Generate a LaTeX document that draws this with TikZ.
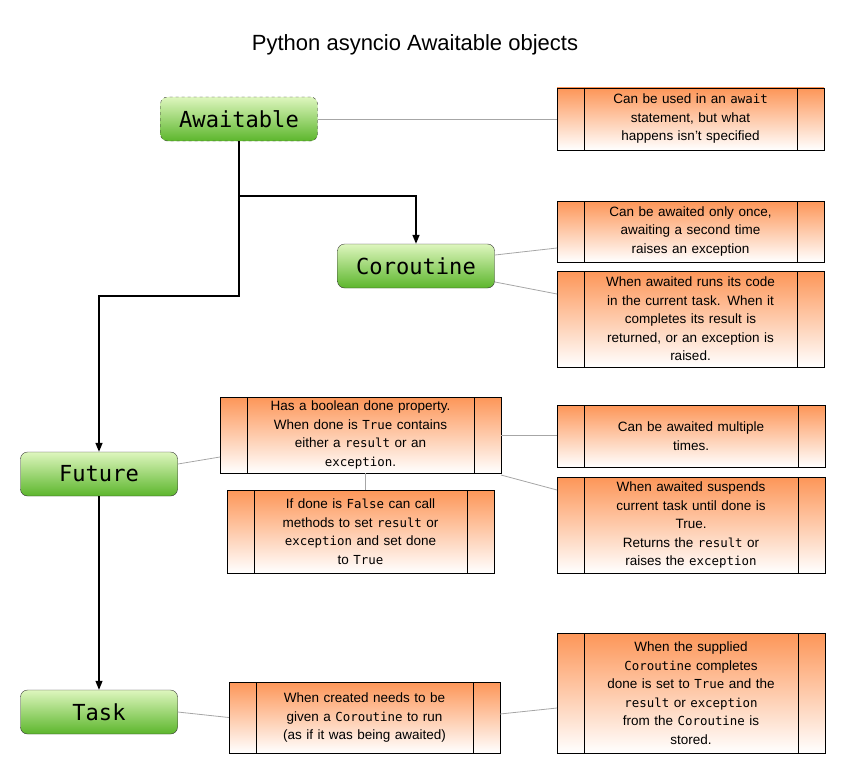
\documentclass[tikz,border=0pt]{standalone}
\usepackage{fontspec}
\setmainfont{Liberation Sans}
\setmonofont{DejaVu Sans Mono}[Scale=0.92]
\usetikzlibrary{arrows.meta}
\begin{document}
\begin{tikzpicture}[x=1pt,y=-1pt,
  obj/.style={draw=black!80, rounded corners=7pt, minimum width=157pt, minimum height=44pt,
    top color={rgb,255:red,222;green,246;blue,190}, bottom color={rgb,255:red,92;green,182;blue,44},
    font=\ttfamily\fontsize{24}{26}\selectfont, inner sep=0pt},
  note/.style={draw=black, top color={rgb,255:red,253;green,150;blue,88}, bottom color=white,
    font=\fontsize{13.5}{18.5}\selectfont, align=center, inner sep=0pt,
    path picture={\draw ([xshift=27pt]path picture bounding box.north west) -- ([xshift=27pt]path picture bounding box.south west);
      \draw ([xshift=-27pt]path picture bounding box.north east) -- ([xshift=-27pt]path picture bounding box.south east);}},
  arr/.style={line width=1.5pt, -{Triangle[length=9pt,width=7pt]}},
  thin/.style={draw=black!35, line width=0.8pt}]
\useasboundingbox (0,0) rectangle (845,765);
\node (title) at (415,45) {\fontsize{22}{26}\selectfont Python asyncio Awaitable objects};
\node[obj, dashed] (await) at (239,119) {Awaitable};
\node[obj] (coro) at (416,266) {Coroutine};
\node[obj] (fut) at (99,474) {Future};
\node[obj] (task) at (99,712) {Task};

\node[note, minimum width=267pt, minimum height=62pt, text width=210pt] (b1) at (690.5,119) {Can be used in an \texttt{await}\\statement, but what\\happens isn't specified};
\node[note, minimum width=267pt, minimum height=61pt, text width=210pt] (b2) at (690.5,231.5) {Can be awaited only once,\\awaiting a second time\\raises an exception};
\node[note, minimum width=267pt, minimum height=96pt, text width=210pt] (b3) at (690.5,319) {When awaited runs its code\\in the current task. When it\\completes its result is\\returned, or an exception is\\raised.};
\node[note, minimum width=281pt, minimum height=76pt, text width=225pt] (b4) at (360.5,435) {Has a boolean done property.\\When done is \texttt{True} contains\\either a \texttt{result} or an\\\texttt{exception}.};
\node[note, minimum width=268pt, minimum height=62pt, text width=210pt] (b5) at (691,436) {Can be awaited multiple\\times.};
\node[note, minimum width=268pt, minimum height=96pt, text width=210pt] (b6) at (691,525) {When awaited suspends\\current task until done is\\True.\\Returns the \texttt{result} or\\raises the \texttt{exception}};
\node[note, minimum width=267pt, minimum height=83pt, text width=215pt] (b7) at (360.5,531.5) {If done is \texttt{False} can call\\methods to set \texttt{result} or\\\texttt{exception} and set done\\to \texttt{True}};
\node[note, minimum width=271pt, minimum height=71pt, text width=220pt] (b8) at (364.5,717.5) {When created needs to be\\given a \texttt{Coroutine} to run\\(as if it was being awaited)};
\node[note, minimum width=268pt, minimum height=120pt, text width=212pt] (b9) at (691,693) {When the supplied\\\texttt{Coroutine} completes\\done is set to \texttt{True} and the\\\texttt{result} or \texttt{exception}\\from the \texttt{Coroutine} is\\stored.};

\draw[arr] (await.south) |- (416,196) -- (coro.north);
\draw[arr] (await.south) -- (239,296) -| (fut.north);
\draw[arr, line width=1.2pt] (fut.south) -- (task.north);

\draw[thin] (await.east) -- (b1.west);
\draw[thin] (495,255) -- (557,248);
\draw[thin] (495,282) -- (557,294);
\draw[thin] (178,464) -- (220,457);
\draw[thin] (501,435) -- (557,435);
\draw[thin] (501,475) -- (557,490);
\draw[thin] (365,473) -- (365,490);
\draw[thin] (task.east) -- (b8.west);
\draw[thin] (500,714) -- (557,708);
\end{tikzpicture}
\end{document}
